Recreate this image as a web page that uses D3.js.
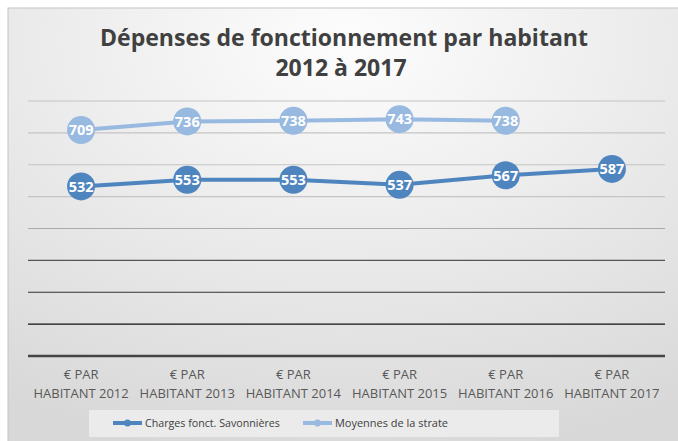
<!DOCTYPE html>
<html>
<head>
<meta charset="utf-8">
<script src="https://cdn.jsdelivr.net/npm/d3@7"></script>
<style>
  body { margin: 0; background: #fff; }
  svg { display: block; }
</style>
</head>
<body>
<svg id="chart"></svg>
<script>
const categories = ["€ PAR HABITANT 2012", "€ PAR HABITANT 2013", "€ PAR HABITANT 2014",
  "€ PAR HABITANT 2015", "€ PAR HABITANT 2016", "€ PAR HABITANT 2017"];
const savonnieres = [532, 553, 553, 537, 567, 587];
const strate = [709, 736, 738, 743, 738, null];
const yTicks = [0, 100, 200, 300, 400, 500, 600, 700, 800];
const seriesNames = ["Charges fonct. Savonnières", "Moyennes de la strate"];

const width = 678, height = 441;
const margin = { top: 101, right: 13, bottom: 85, left: 28 };
const darkBlue = "#4f85bf", lightBlue = "#98b9e0";

const svg = d3.select("#chart").attr("width", width).attr("height", height);

// background gradient like the office chart area
const defs = svg.append("defs");
const grad = defs.append("radialGradient").attr("id", "bg")
  .attr("cx", "50%").attr("cy", "8%").attr("r", "95%");
grad.append("stop").attr("offset", "0%").attr("stop-color", "#fdfdfd");
grad.append("stop").attr("offset", "100%").attr("stop-color", "#d8d8d8");

svg.append("rect")
  .attr("x", 8).attr("y", 8).attr("width", width).attr("height", height)
  .attr("fill", "url(#bg)").attr("stroke", "#c4c4c4").attr("stroke-width", 1);

const x = d3.scaleBand().domain(categories)
  .range([margin.left, width - margin.right]);
const y = d3.scaleLinear().domain([0, 800])
  .range([height - margin.bottom, margin.top]);

// resize a text element so it fills a target width
function fit(sel, w) {
  sel.each(function () {
    const fs = parseFloat(this.getAttribute("font-size"));
    const len = this.getComputedTextLength();
    this.setAttribute("font-size", (fs * w / len).toFixed(2));
  });
}

// title
const title = svg.append("g")
  .attr("font-family", "'Open Sans', sans-serif")
  .attr("font-weight", "bold")
  .attr("fill", "#404040")
  .attr("text-anchor", "middle");
const t1 = title.append("text").attr("x", 344).attr("y", 46).attr("font-size", 22)
  .text("Dépenses de fonctionnement par habitant").call(fit, 488);
title.append("text").attr("x", 341).attr("y", 76).attr("font-size", t1.attr("font-size"))
  .text("2012 à 2017");

// gridlines, getting darker toward the bottom as in the picture
const gridColor = d3.scaleOrdinal()
  .domain(yTicks)
  .range(["#444", "#111", "#333", "#555", "#aaa", "#c4c4c4", "#c4c4c4", "#c4c4c4", "#c4c4c4"]);

svg.append("g")
  .selectAll("line")
  .data(yTicks)
  .join("line")
  .attr("x1", margin.left).attr("x2", width - margin.right)
  .attr("y1", d => y(d)).attr("y2", d => y(d))
  .attr("stroke", d => gridColor(d))
  .attr("stroke-width", d => d === 0 ? 2.5 : 1.2);

// x axis labels
const xLab = svg.append("g")
  .attr("font-family", "'Open Sans', sans-serif")
  .attr("font-size", 13)
  .attr("fill", "#595959")
  .attr("text-anchor", "middle");
categories.forEach(c => {
  const words = c.split(" ");
  const t = xLab.append("text").attr("x", x(c) + x.bandwidth() / 2).attr("y", 379);
  t.append("tspan").attr("x", x(c) + x.bandwidth() / 2).text(words.slice(0, 2).join(" "));
  t.append("tspan").attr("x", x(c) + x.bandwidth() / 2).attr("dy", 19).text(words.slice(2).join(" "));
});

const cx = i => x(categories[i]) + x.bandwidth() / 2;

function drawSeries(values, color) {
  const pts = values.map((v, i) => ({ i, v })).filter(d => d.v != null);
  const line = d3.line().x(d => cx(d.i)).y(d => y(d.v));
  svg.append("path").datum(pts)
    .attr("d", line)
    .attr("fill", "none")
    .attr("stroke", color)
    .attr("stroke-width", 4)
    .attr("stroke-linejoin", "round");
  const g = svg.append("g").selectAll("g").data(pts).join("g")
    .attr("transform", d => `translate(${cx(d.i)},${y(d.v)})`);
  g.append("circle").attr("r", 14).attr("fill", color);
  g.append("text")
    .attr("text-anchor", "middle").attr("dy", "0.36em")
    .attr("font-family", "'Open Sans', sans-serif")
    .attr("font-weight", "bold").attr("font-size", 14.5)
    .attr("fill", "#fff")
    .text(d => d.v);
}

drawSeries(strate, lightBlue);
drawSeries(savonnieres, darkBlue);

// legend
svg.append("rect")
  .attr("x", 89).attr("y", 410).attr("width", 470).attr("height", 27)
  .attr("fill", "#ebebeb");
const legendItems = [
  { name: seriesNames[0], color: darkBlue, x: 113, w: 135 },
  { name: seriesNames[1], color: lightBlue, x: 303, w: 113 }
];
const lg = svg.append("g").selectAll("g").data(legendItems).join("g")
  .attr("transform", d => `translate(${d.x},423)`);
lg.append("line").attr("x1", 0).attr("x2", 29)
  .attr("stroke", d => d.color).attr("stroke-width", 4);
lg.append("circle").attr("cx", 14.5).attr("r", 3.5).attr("fill", d => d.color);
lg.append("text").attr("x", 32).attr("dy", "0.35em")
  .attr("font-family", "'Open Sans', sans-serif")
  .attr("font-size", 12).attr("fill", "#404040")
  .text(d => d.name)
  .each(function (d) { d3.select(this).call(fit, d.w); });
</script>
</body>
</html>
